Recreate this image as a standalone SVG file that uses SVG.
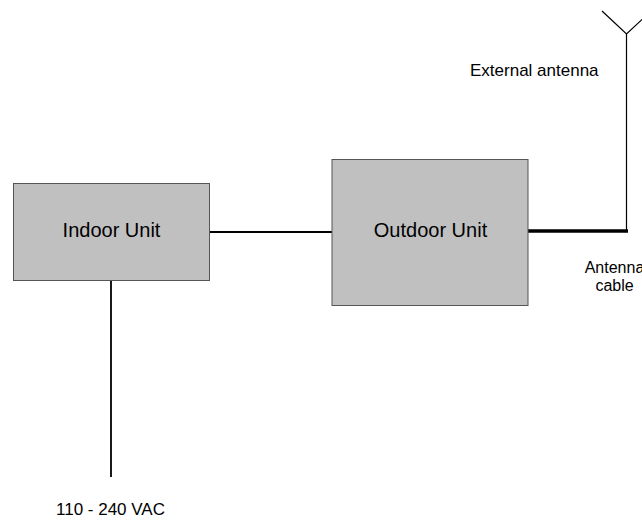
<svg xmlns="http://www.w3.org/2000/svg" width="642" height="520" viewBox="0 0 642 520">
<style>
.box{fill:#c0c0c0;stroke:#555;stroke-width:1}
.lbl{font-family:"Liberation Sans",Arial,sans-serif;fill:#000}
.big{font-size:20px;text-anchor:middle}
.small{font-size:17px}
.tiny{font-size:16px;text-anchor:middle}
.wire{stroke:#000;stroke-width:1.8;fill:none}
.thin{stroke:#000;stroke-width:1.2;fill:none}
.cable{stroke:#000;stroke-width:3.5;fill:none}
</style>
<rect width="642" height="520" fill="#fff"/>
<g id="connectors">
<line class="wire" x1="209" y1="232" x2="332" y2="232"/>
<line class="wire" x1="111" y1="281" x2="111" y2="477"/>
<line class="cable" x1="527" y1="231" x2="628" y2="231"/>
<line class="thin" x1="626.5" y1="231" x2="626.5" y2="34"/>
<polyline class="thin" points="602,11 626.5,34 651,11"/>
</g>
<g id="indoor">
<rect class="box" x="13.5" y="183.5" width="196" height="97"/>
<text class="lbl big" x="111.5" y="237">Indoor Unit</text>
</g>
<g id="outdoor">
<rect class="box" x="332" y="159.5" width="196" height="146"/>
<text class="lbl big" x="430.5" y="237">Outdoor Unit</text>
</g>
<g id="antenna-label">
<text class="lbl small" x="470" y="76">External antenna</text>
</g>
<g id="cable-label">
<text class="lbl tiny" x="614.5" y="273">Antenna</text>
<text class="lbl tiny" x="614.5" y="291">cable</text>
</g>
<g id="power-label">
<text class="lbl small" x="56" y="515">110 - 240 VAC</text>
</g>
</svg>
